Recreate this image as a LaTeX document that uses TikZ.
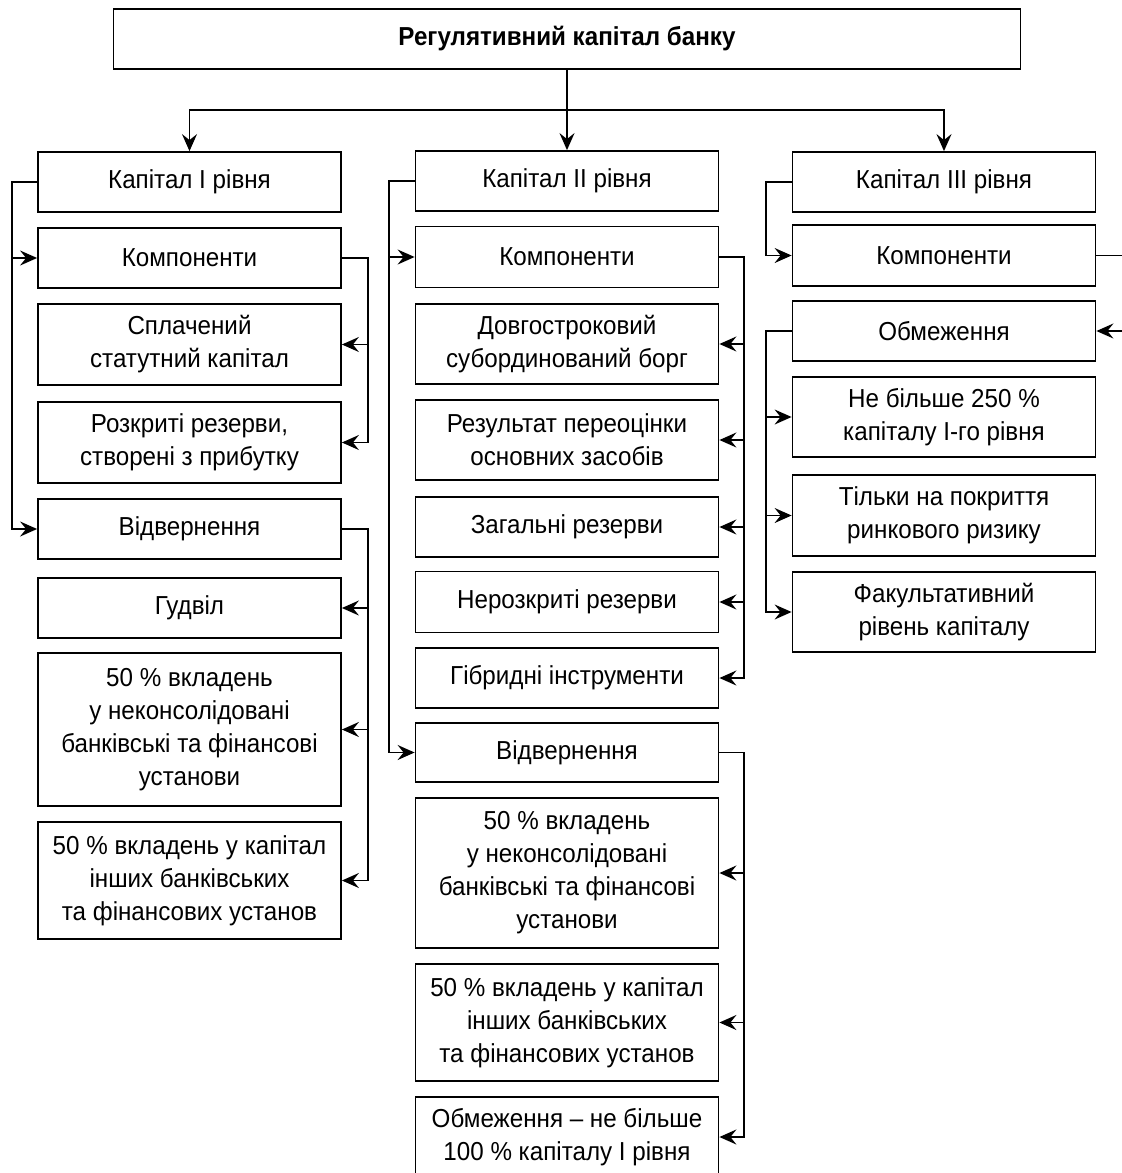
\documentclass[tikz,border=0pt]{standalone}
\usepackage{fontspec}
\setmainfont{Liberation Sans}[FakeStretch=0.93]
\usetikzlibrary{arrows.meta}
\begin{document}
\begin{tikzpicture}[x=1pt,y=-1pt,
  box/.style={draw=black,line width=1.8pt,fill=white,align=center,inner sep=0pt,
    minimum width=303pt,font=\fontsize{26}{33}\selectfont},
  conn/.style={line width=1.6pt},
  arr/.style={conn,-{Stealth[length=17pt,width=15pt,inset=6pt]}}]
\useasboundingbox (0,0) rectangle (1122,1173);
% title
\node[box,minimum width=907pt,minimum height=60pt,font=\fontsize{26}{31}\selectfont\bfseries] (title) at (567,39) {Регулятивний капітал банку};
% column 1
\node[box,minimum height=60pt] (c1a) at (189.5,182) {Капітал І рівня};
\node[box,minimum height=60pt] (c1b) at (189.5,258) {Компоненти};
\node[box,minimum height=81pt] (c1c) at (189.5,344.5) {Сплачений\\статутний капітал};
\node[box,minimum height=81pt] (c1d) at (189.5,442.5) {Розкриті резерви,\\створені з прибутку};
\node[box,minimum height=60pt] (c1e) at (189.5,529) {Відвернення};
\node[box,minimum height=60pt] (c1f) at (189.5,608) {Гудвіл};
\node[box,minimum height=153pt] (c1g) at (189.5,729.5) {50 \% вкладень\\у неконсолідовані\\банківські та фінансові\\установи};
\node[box,minimum height=117pt] (c1h) at (189.5,880.5) {50 \% вкладень у капітал\\інших банківських\\та фінансових установ};
% column 2
\node[box,minimum height=60pt] (c2a) at (567,181) {Капітал ІІ рівня};
\node[box,minimum height=61pt] (c2b) at (567,257) {Компоненти};
\node[box,minimum height=80pt] (c2c) at (567,344) {Довгостроковий\\субординований борг};
\node[box,minimum height=80pt] (c2d) at (567,440) {Результат переоцінки\\основних засобів};
\node[box,minimum height=60pt] (c2e) at (567,527) {Загальні резерви};
\node[box,minimum height=61pt] (c2f) at (567,602) {Нерозкриті резерви};
\node[box,minimum height=60pt] (c2g) at (567,678) {Гібридні інструменти};
\node[box,minimum height=59pt] (c2h) at (567,752.5) {Відвернення};
\node[box,minimum height=150pt] (c2i) at (567,873) {50 \% вкладень\\у неконсолідовані\\банківські та фінансові\\установи};
\node[box,minimum height=117pt] (c2j) at (567,1022.5) {50 \% вкладень у капітал\\інших банківських\\та фінансових установ};
\node[box,minimum height=80pt] (c2k) at (567,1137) {Обмеження – не більше\\100 \% капіталу І рівня};
% column 3
\node[box,minimum height=60pt] (c3a) at (944,182) {Капітал ІІІ рівня};
\node[box,minimum height=61pt] (c3b) at (944,255.5) {Компоненти};
\node[box,minimum height=60pt] (c3c) at (944,331) {Обмеження};
\node[box,minimum height=80pt] (c3d) at (944,417) {Не більше 250 \%\\капіталу І-го рівня};
\node[box,minimum height=81pt] (c3e) at (944,515.5) {Тільки на покриття\\ринкового ризику};
\node[box,minimum height=80pt] (c3f) at (944,612) {Факультативний\\рівень капіталу};
% helper coordinates
\coordinate (hub) at (567,110);
\coordinate (L1) at (12,0);
\coordinate (R1) at (368,0);
\coordinate (L2) at (389,0);
\coordinate (R2) at (744,0);
\coordinate (L3) at (766,0);
\coordinate (E3) at (1135,0);
% top connectors
\draw[conn] (title.south) -- (hub);
\draw[arr] (hub) -- (c2a.north);
\draw[arr] (hub) -| (c1a.north);
\draw[arr] (hub) -| (c3a.north);
% column 1
\draw[arr] (c1a.west) -- (L1 |- c1a.west) |- (c1e.west);
\draw[arr] (L1 |- c1b.west) -- (c1b.west);
\draw[arr] (c1b.east) -- (R1 |- c1b.east) |- (c1d.east);
\draw[arr] (R1 |- c1c.east) -- (c1c.east);
\draw[arr] (c1e.east) -- (R1 |- c1e.east) |- (c1h.east);
\draw[arr] (R1 |- c1f.east) -- (c1f.east);
\draw[arr] (R1 |- c1g.east) -- (c1g.east);
% column 2
\draw[arr] (c2a.west) -- (L2 |- c2a.west) |- (c2h.west);
\draw[arr] (L2 |- c2b.west) -- (c2b.west);
\draw[arr] (c2b.east) -- (R2 |- c2b.east) |- (c2g.east);
\draw[arr] (R2 |- c2c.east) -- (c2c.east);
\draw[arr] (R2 |- c2d.east) -- (c2d.east);
\draw[arr] (R2 |- c2e.east) -- (c2e.east);
\draw[arr] (R2 |- c2f.east) -- (c2f.east);
\draw[arr] (c2h.east) -- (R2 |- c2h.east) |- (c2k.east);
\draw[arr] (R2 |- c2i.east) -- (c2i.east);
\draw[arr] (R2 |- c2j.east) -- (c2j.east);
% column 3
\draw[arr] (c3a.west) -- (L3 |- c3a.west) |- (c3b.west);
\draw[arr] (c3b.east) -- (E3 |- c3b.east) |- (c3c.east);
\draw[arr] (c3c.west) -- (L3 |- c3c.west) |- (c3f.west);
\draw[arr] (L3 |- c3d.west) -- (c3d.west);
\draw[arr] (L3 |- c3e.west) -- (c3e.west);
\end{tikzpicture}
\end{document}
